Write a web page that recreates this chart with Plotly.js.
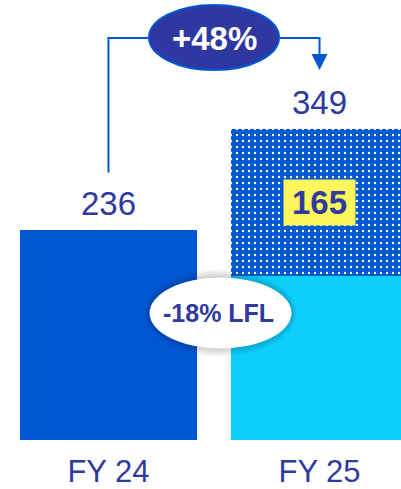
<!DOCTYPE html>
<html>
<head>
<meta charset="utf-8">
<script src="https://cdn.plot.ly/plotly-3.0.1.min.js"></script>
<style>html,body{margin:0;padding:0;background:#fff;}#chart{width:401px;height:489px;}</style>
</head>
<body>
<div id="chart"></div>
<script>
// ---- data ----
const categories = ["FY 24", "FY 25"];
const baseValues = [236, 184];        // FY24 total, FY25 like-for-like part
const addedValues = [0, 165];         // FY25 added (dotted) part
const totals = [236, 349];
const addedLabel = "165";
const growthLabel = "+48%";
const lflLabel = "-18% LFL";

// ---- styles ----
const FONT = "Liberation Sans, Arial, sans-serif";
const TXT = "#2E3A9E";
const BLUE = "#0057D3";
const CYAN = "#0DCFFD";

const traces = [
  {
    type: "bar", x: categories, y: baseValues, width: 0.839,
    marker: { color: [BLUE, CYAN], line: { width: 0 } },
    hoverinfo: "skip"
  },
  {
    type: "bar", x: categories, y: addedValues, width: 0.839,
    marker: {
      color: BLUE, line: { width: 0 },
      pattern: { shape: ".", bgcolor: BLUE, fgcolor: "#ffffff", size: 6, solidity: 0.12, fillmode: "replace" }
    },
    hoverinfo: "skip"
  }
];

const yTop = 450.7;      // connector height
const lflX = 0.531, lflY = 142.4;
const shapes = [
  // connector
  { type: "path", xref: "x", yref: "y",
    path: `M 0,${totals[0] + 64} L 0,${yTop} L 1,${yTop} L 1,${totals[1] + 80}`,
    line: { color: BLUE, width: 2 }, layer: "above" },
  // arrow head
  { type: "path", xref: "x", yref: "y", xsizemode: "pixel", ysizemode: "pixel",
    xanchor: 1, yanchor: totals[1] + 65.8,
    path: "M -8,16 L 8,16 L 0,0 Z", fillcolor: BLUE, line: { width: 0 }, layer: "above" },
  // growth ellipse
  { type: "circle", xref: "x", yref: "y", xsizemode: "pixel", ysizemode: "pixel",
    xanchor: 0.5, yanchor: yTop, x0: -65, x1: 65, y0: -32, y1: 33,
    fillcolor: "#2E38A0", line: { color: BLUE, width: 2 }, layer: "above" }
];
// soft shadow around LFL ellipse
[8, 6, 4, 2].forEach(function (d) {
  shapes.push({ type: "circle", xref: "x", yref: "y", xsizemode: "pixel", ysizemode: "pixel",
    xanchor: lflX, yanchor: lflY, x0: -71 - d * 0.6, x1: 71 + d * 0.6, y0: -35.5 - d, y1: 35.5 + d,
    fillcolor: "rgba(0,0,0,0.045)", line: { width: 0 }, layer: "above" });
});
shapes.push({ type: "circle", xref: "x", yref: "y", xsizemode: "pixel", ysizemode: "pixel",
  xanchor: lflX, yanchor: lflY, x0: -71, x1: 71, y0: -35.5, y1: 35.5,
  fillcolor: "#ffffff", line: { width: 0 }, layer: "above" });

const annotations = [
  { x: 0, y: totals[0], text: String(totals[0]), showarrow: false, yanchor: "bottom", yshift: 6,
    font: { family: FONT, size: 33, color: TXT } },
  { x: 1, y: totals[1], text: String(totals[1]), showarrow: false, yanchor: "bottom", yshift: 6,
    font: { family: FONT, size: 33, color: TXT } },
  { x: 1, y: baseValues[1] + addedValues[1] / 2, text: "<b>" + addedLabel + "</b>", showarrow: false,
    bgcolor: "#FFF65B", width: 71, height: 45, borderpad: 0,
    font: { family: FONT, size: 33, color: TXT } },
  { x: 0.5, y: yTop, text: "<b>" + growthLabel + "</b>", showarrow: false,
    font: { family: FONT, size: 33, color: "#ffffff" } },
  { x: lflX - 0.008, y: lflY, text: "<b>" + lflLabel + "</b>", showarrow: false,
    font: { family: FONT, size: 25, color: TXT } }
];

const layout = {
  width: 401, height: 489,
  margin: { l: 0, r: 0, t: 0, b: 49, pad: 0 },
  paper_bgcolor: "#ffffff", plot_bgcolor: "#ffffff",
  showlegend: false, barmode: "stack",
  xaxis: {
    type: "category", range: [-0.514, 1.386], showgrid: false, zeroline: false, showline: false,
    ticks: "", tickfont: { family: FONT, size: 31, color: TXT }, ticklabelstandoff: 10, fixedrange: true
  },
  yaxis: { range: [0, 493.3], visible: false, showgrid: false, zeroline: false, fixedrange: true },
  shapes: shapes,
  annotations: annotations
};

Plotly.newPlot("chart", traces, layout, { displayModeBar: false, staticPlot: true });
</script>
</body>
</html>
